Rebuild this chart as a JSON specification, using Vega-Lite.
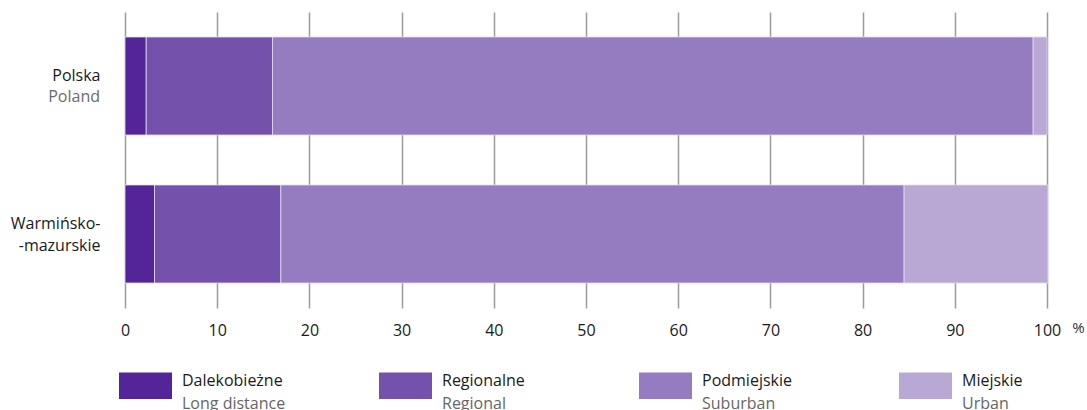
{
  "$schema": "https://vega.github.io/schema/vega-lite/v6.json",
  "width": 922,
  "height": 296,
  "autosize": {"type": "none"},
  "padding": {"left": 125, "top": 12, "right": 40, "bottom": 102},
  "config": {"font": "Open Sans", "view": {"stroke": null}},
  "datasets": {
    "bars": [
      {"region": "Polska", "type": "Dalekobieżne", "type_en": "Long distance", "ord": 1, "value": 2.3},
      {"region": "Polska", "type": "Regionalne", "type_en": "Regional", "ord": 2, "value": 13.7},
      {"region": "Polska", "type": "Podmiejskie", "type_en": "Suburban", "ord": 3, "value": 82.5},
      {"region": "Polska", "type": "Miejskie", "type_en": "Urban", "ord": 4, "value": 1.5},
      {"region": "Warmińsko-mazurskie", "type": "Dalekobieżne", "type_en": "Long distance", "ord": 1, "value": 3.2},
      {"region": "Warmińsko-mazurskie", "type": "Regionalne", "type_en": "Regional", "ord": 2, "value": 13.7},
      {"region": "Warmińsko-mazurskie", "type": "Podmiejskie", "type_en": "Suburban", "ord": 3, "value": 67.6},
      {"region": "Warmińsko-mazurskie", "type": "Miejskie", "type_en": "Urban", "ord": 4, "value": 15.6}
    ],
    "labels": [
      {"region": "Polska", "en": "Poland"}
    ]
  },
  "encoding": {
    "y": {
      "field": "region",
      "type": "nominal",
      "scale": {"paddingInner": 0.338, "paddingOuter": 0.169},
      "axis": {
        "title": null,
        "domain": false,
        "ticks": false,
        "grid": false,
        "labelFontSize": 16,
        "labelColor": "#1a1a1a",
        "labelPadding": 25,
        "labelOffset": -10,
        "labelLineHeight": 21.5,
        "labelExpr": "datum.value == 'Polska' ? 'Polska' : ['Warmińsko-', '-mazurskie']"
      }
    }
  },
  "layer": [
    {
      "data": {"name": "bars"},
      "encoding": {
        "x": {
          "field": "value",
          "type": "quantitative",
          "stack": "zero",
          "scale": {"domain": [0, 100], "nice": false},
          "axis": {
            "values": [0, 10, 20, 30, 40, 50, 60, 70, 80, 90, 100],
            "grid": true,
            "gridColor": "#9b9b9b",
            "gridWidth": 1.5,
            "domain": false,
            "ticks": false,
            "labelFlush": false,
            "labelFontSize": 16,
            "labelColor": "#1a1a1a",
            "labelPadding": 14,
            "title": "%",
            "titleX": 953,
            "titleY": 19,
            "titleBaseline": "middle",
            "titleAlign": "center",
            "titleFontSize": 15,
            "titleFontWeight": "normal",
            "titleColor": "#333333"
          }
        },
        "order": {"field": "ord", "type": "quantitative"}
      },
      "resolve": {"scale": {"color": "independent"}, "legend": {"color": "independent"}},
      "layer": [
        {
          "mark": {"type": "bar", "stroke": "#e4dbf0", "strokeWidth": 0.8},
          "encoding": {
            "color": {
              "field": "type",
              "type": "nominal",
              "scale": {
                "domain": ["Dalekobieżne", "Regionalne", "Podmiejskie", "Miejskie"],
                "range": ["#532599", "#7452ab", "#957bbf", "#b9a7d4"]
              },
              "legend": {
                "orient": "none",
                "legendX": -6,
                "legendY": 347,
                "direction": "horizontal",
                "columns": 4,
                "gridAlign": "all",
                "columnPadding": 96,
                "padding": 0,
                "title": null,
                "symbolType": "M-1,-0.5H1V0.5H-1Z",
                "symbolSize": 2809,
                "symbolStrokeWidth": 0,
                "symbolOpacity": 1,
                "labelFontSize": 16,
                "labelColor": "#1a1a1a",
                "labelOffset": 10,
                "labelBaseline": "alphabetic",
                "labelLimit": 300
              }
            }
          }
        },
        {
          "mark": {"type": "bar", "fillOpacity": 0, "strokeOpacity": 0},
          "encoding": {
            "color": {
              "field": "type_en",
              "type": "nominal",
              "scale": {
                "domain": ["Long distance", "Regional", "Suburban", "Urban"],
                "range": ["transparent", "transparent", "transparent", "transparent"]
              },
              "legend": {
                "orient": "none",
                "legendX": -6,
                "legendY": 370,
                "direction": "horizontal",
                "columns": 4,
                "gridAlign": "all",
                "columnPadding": 93,
                "padding": 0,
                "title": null,
                "symbolType": "M-1,-0.5H1V0.5H-1Z",
                "symbolSize": 2809,
                "symbolStrokeWidth": 0,
                "symbolOpacity": 0,
                "labelFontSize": 16,
                "labelColor": "#666666",
                "labelOffset": 10,
                "labelBaseline": "alphabetic",
                "labelLimit": 300
              }
            }
          }
        }
      ]
    },
    {
      "data": {"name": "labels"},
      "mark": {"type": "text", "align": "right", "baseline": "middle", "dx": -25, "dy": 10.5, "fontSize": 16, "color": "#6b6b6b"},
      "encoding": {
        "x": {"datum": 0, "type": "quantitative"},
        "text": {"field": "en"}
      }
    }
  ]
}
